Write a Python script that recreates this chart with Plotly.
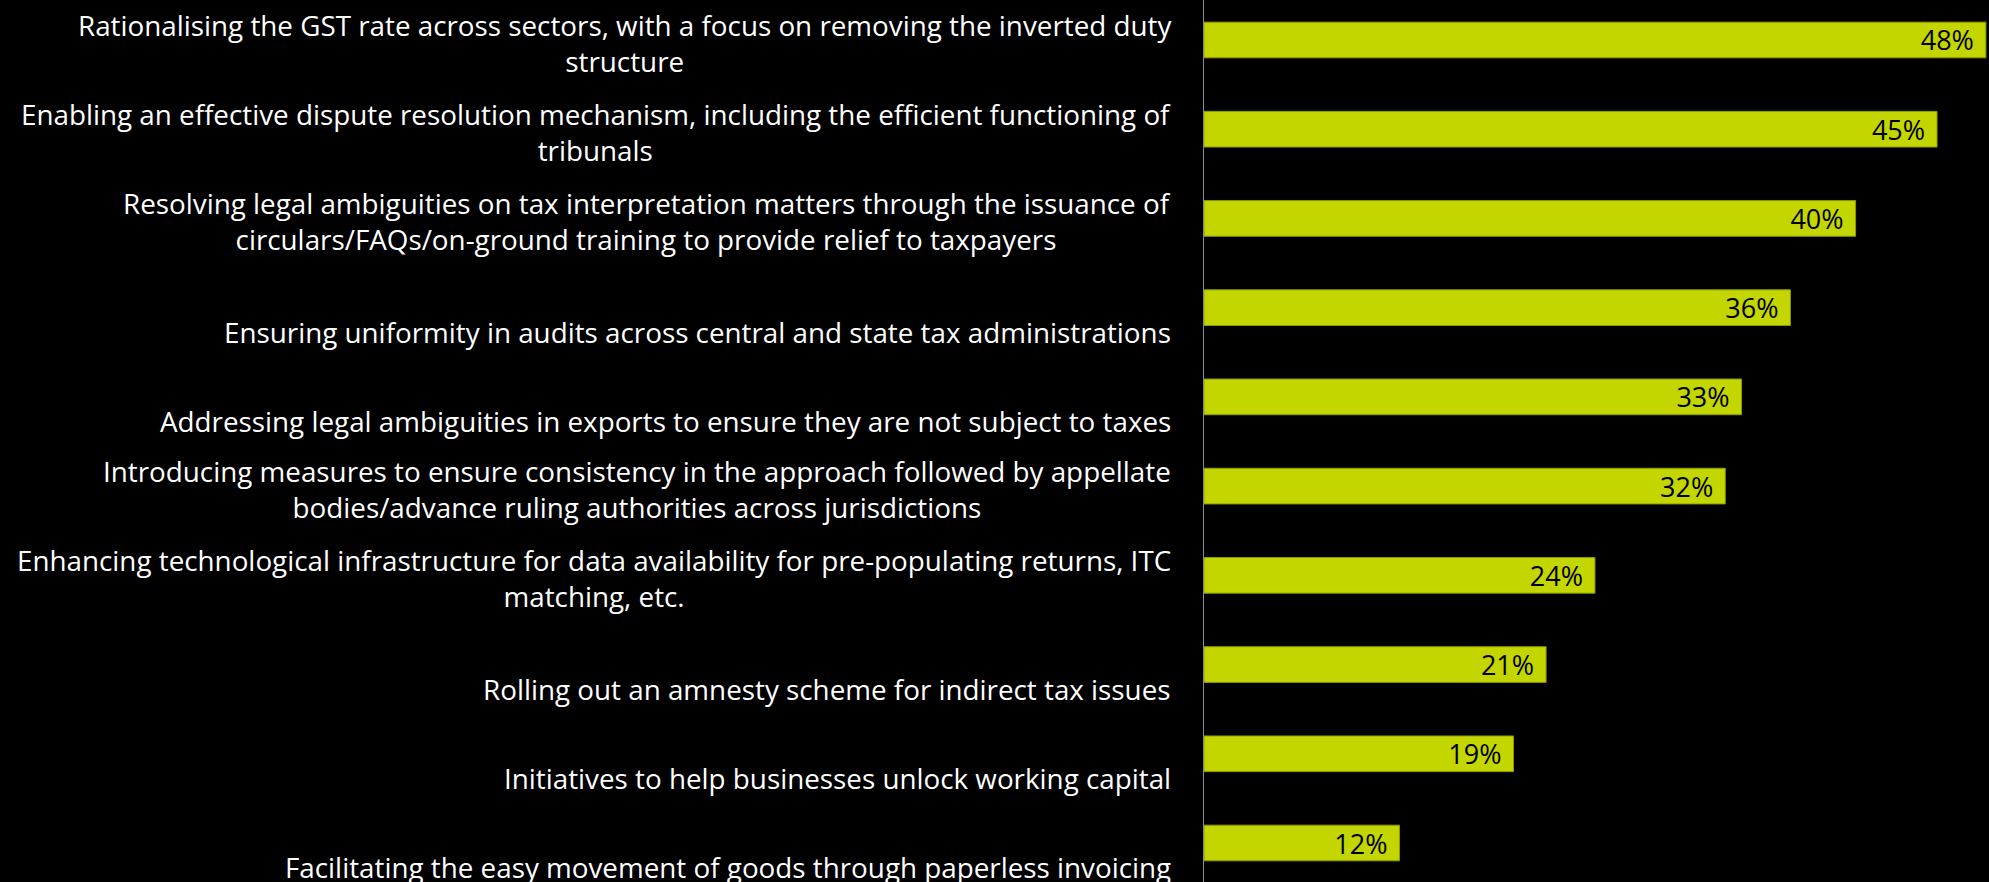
import plotly.graph_objects as go

# Survey priorities, top to bottom
categories = [
    "Rationalising the GST rate across sectors, with a focus on removing the inverted duty<br>structure",
    "Enabling an effective dispute resolution mechanism, including the efficient functioning of<br>tribunals",
    "Resolving legal ambiguities on tax interpretation matters through the issuance of<br>circulars/FAQs/on-ground training to provide relief to taxpayers",
    "Ensuring uniformity in audits across central and state tax administrations",
    "Addressing legal ambiguities in exports to ensure they are not subject to taxes",
    "Introducing measures to ensure consistency in the approach followed by appellate<br>bodies/advance ruling authorities across jurisdictions",
    "Enhancing technological infrastructure for data availability for pre-populating returns, ITC<br>matching, etc.",
    "Rolling out an amnesty scheme for indirect tax issues",
    "Initiatives to help businesses unlock working capital",
    "Facilitating the easy movement of goods through paperless invoicing",
]
values = [48, 45, 40, 36, 33, 32, 24, 21, 19, 12]

FONT = "Open Sans"
BAR_COLOR = "#C4D600"

fig = go.Figure(
    go.Bar(
        y=categories,
        x=values,
        orientation="h",
        marker=dict(color=BAR_COLOR, line=dict(color="#8C9A00", width=1)),
        width=0.4,
        text=[f"{v}%\u2009\u2009" for v in values],
        textposition="inside",
        insidetextanchor="end",
        constraintext="none",
        textfont=dict(family=FONT, size=27, color="#000000"),
        cliponaxis=False,
        hoverinfo="skip",
    )
)

# Category labels, right-aligned block with centred lines
for cat in categories:
    two_line = "<br>" in cat
    fig.add_annotation(
        x=0, xref="x", y=cat, yref="y",
        text=cat, showarrow=False,
        xanchor="right", yanchor="middle", align="center",
        xshift=-31, yshift=-3 if two_line else -24,
        font=dict(family=FONT, size=27.8, color="#FFFFFF"),
    )

fig.update_layout(
    width=1989, height=882,
    margin=dict(l=0, r=0, t=0, b=0),
    paper_bgcolor="#000000", plot_bgcolor="#000000",
    showlegend=False,
    xaxis=dict(domain=[1204 / 1989, 1], range=[0, 48.19],
               showgrid=False, zeroline=False, showticklabels=False, showline=False),
    yaxis=dict(type="category", categoryorder="array", categoryarray=categories,
               range=[9.437, -0.448], showgrid=False, zeroline=False,
               showticklabels=False, showline=True, linecolor="#8C8C8C", linewidth=1),
)

fig.write_html("out.html")
